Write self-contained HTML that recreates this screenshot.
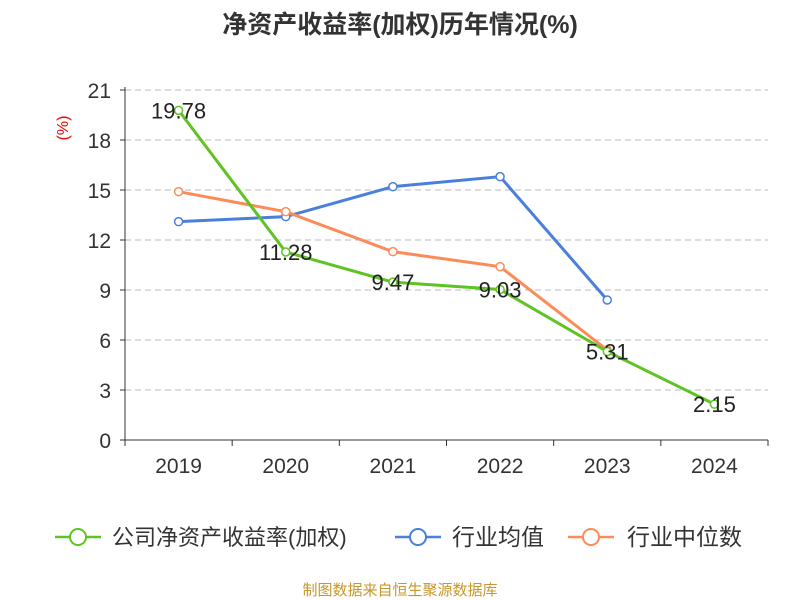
<!DOCTYPE html>
<html><head><meta charset="utf-8"><style>
body{margin:0;background:#fff;}
svg{display:block;font-family:"Liberation Sans","Noto Sans CJK SC",sans-serif;}
</style></head><body>
<svg id="c" width="800" height="600">
<text x="400" y="33" text-anchor="middle" font-size="25" font-weight="bold" fill="#333">净资产收益率(加权)历年情况(%)</text>
<text x="68" y="128" text-anchor="middle" font-size="16" fill="#e00" transform="rotate(-90 68 128)">(%)</text>
<g id="grid"></g><g id="axes"></g><g id="series"></g>
<g>
<g><line x1="55" y1="537" x2="101" y2="537" stroke="#5ec323" stroke-width="2.5"/><circle cx="78" cy="537" r="8" fill="#fff" stroke="#5ec323" stroke-width="2"/><text x="112" y="545" font-size="22" fill="#333">公司净资产收益率(加权)</text></g>
<g><line x1="395" y1="537" x2="441" y2="537" stroke="#4a7fdb" stroke-width="2.5"/><circle cx="418" cy="537" r="8" fill="#fff" stroke="#4a7fdb" stroke-width="2"/><text x="452" y="545" font-size="23" fill="#333">行业均值</text></g>
<g><line x1="568" y1="537" x2="614" y2="537" stroke="#fb8c5a" stroke-width="2.5"/><circle cx="591" cy="537" r="8" fill="#fff" stroke="#fb8c5a" stroke-width="2"/><text x="627" y="545" font-size="23" fill="#333">行业中位数</text></g>
</g>
<text x="400" y="595" text-anchor="middle" font-size="15" fill="#c9962a">制图数据来自恒生聚源数据库</text>
</svg>
<script>
const categories=["2019","2020","2021","2022","2023","2024"];
const companyValues=[19.78,11.28,9.47,9.03,5.31,2.15];
const avgValues=[13.1,13.4,15.2,15.8,8.4,null];
const medianValues=[14.9,13.7,11.3,10.4,5.4,null];
const yTicks=[0,3,6,9,12,15,18,21];
const NS="http://www.w3.org/2000/svg";
const x0=125,x1=768,y0=440,y1=90,yMax=21;
const bw=(x1-x0)/categories.length;
const xs=i=>x0+bw*(i+0.5);
const ys=v=>y0-(v/yMax)*(y0-y1);
function mk(t,a,p){const e=document.createElementNS(NS,t);for(const k in a)e.setAttribute(k,a[k]);p.appendChild(e);return e;}
const grid=document.getElementById('grid'),axes=document.getElementById('axes'),ser=document.getElementById('series');
yTicks.forEach(v=>{
 if(v>0){const l=mk('line',{x1:x0,x2:x1,y1:ys(v),y2:ys(v),stroke:'#bbb','stroke-dasharray':'6,4'},grid);
 
 }
 const t=mk('text',{x:x0-14,y:ys(v)+8,'text-anchor':'end','font-size':'21',fill:'#333'},axes);t.textContent=v;
 
 
 mk('line',{x1:x0-5,x2:x0,y1:ys(v),y2:ys(v),stroke:'#333'},axes);
});
mk('line',{x1:x0,x2:x0,y1:y1-3,y2:y0,stroke:'#333'},axes);
mk('line',{x1:x0,x2:x1,y1:y0,y2:y0,stroke:'#333'},axes);
categories.forEach((c,i)=>{
 mk('line',{x1:x0+bw*i,x2:x0+bw*i,y1:y0,y2:y0+6,stroke:'#333'},axes);
 const t=mk('text',{x:xs(i),y:y0+33,'text-anchor':'middle','font-size':'21',fill:'#333'},axes);t.textContent=c;
 
 
});
mk('line',{x1:x1,x2:x1,y1:y0,y2:y0+6,stroke:'#333'},axes);
function series(vals,color,name){
 const pts=vals.map((v,i)=>v==null?null:[xs(i),ys(v)]).filter(p=>p);
 const pl=mk('polyline',{points:pts.map(p=>p.join(',')).join(' '),fill:'none',stroke:color,'stroke-width':3},ser);
 
 
 pts.forEach(p=>{const c=mk('circle',{cx:p[0],cy:p[1],r:4,fill:'#fff',stroke:color,'stroke-width':1.5},ser);
 
 });
}
series(avgValues,'#4a7fdb','industry-average');
series(medianValues,'#fb8c5a','industry-median');
series(companyValues,'#5ec323','company-roe');
companyValues.forEach((v,i)=>{
 const t=mk('text',{x:xs(i),y:ys(v)+8,'text-anchor':'middle','font-size':'22',fill:'#222'},ser);t.textContent=v.toFixed(2);
 
 
});
</script>
</body></html>
